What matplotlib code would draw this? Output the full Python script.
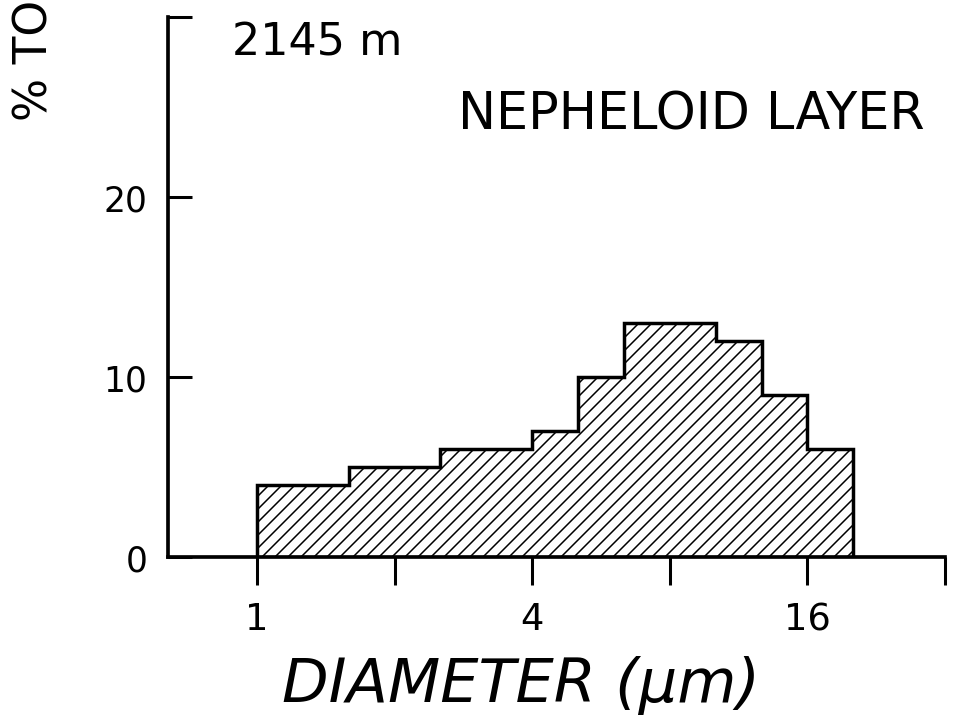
import numpy as np
import matplotlib
matplotlib.use("Agg")
from matplotlib import pyplot as plt

# bin edges (1/3 phi steps, um) and percent of total in each bin
edges = [1.0, 1.26, 1.59, 2.0, 2.52, 3.17, 4.0, 5.04, 6.35, 8.0, 10.08, 12.7, 16.0, 20.16]
percent = [4, 4, 5, 5, 6, 6, 7, 10, 13, 13, 12, 9, 6]

xticks = [1, 2, 4, 8, 16, 32]
xticklabels = ["1", "", "4", "", "16", ""]
yticks = [0, 10, 20, 30]
yticklabels = ["0", "10", "20", ""]

DPI = 78
plt.rcParams['font.family'] = ['DejaVu Sans']
plt.rcParams['hatch.linewidth'] = 1.4

fig = plt.figure(figsize=(967 / DPI, 719 / DPI), dpi=DPI)
ax = fig.add_axes([168 / 967, 1 - 558 / 719, 777 / 967, 540 / 719])

ax.stairs(percent, edges, fill=True, facecolor='white', edgecolor='black',
          hatch='//', linewidth=3.2)

ax.set_xscale('log', base=2)
ax.set_xlim(0.639, 32)
ax.set_ylim(0, 30)

for s in ['top', 'right']:
    ax.spines[s].set_visible(False)
for s in ['left', 'bottom']:
    ax.spines[s].set_linewidth(3.4)

ax.set_xticks(xticks)
ax.set_xticklabels(xticklabels)
ax.xaxis.set_minor_locator(matplotlib.ticker.NullLocator())
ax.set_yticks(yticks)
ax.set_yticklabels(yticklabels)

ax.tick_params(axis='x', direction='out', length=26, width=2.8, pad=14, labelsize=34)
ax.tick_params(axis='y', direction='in', length=22, width=2.8, pad=19, labelsize=32)

fig.text(232 / 967, 1 - 55 / 719, "2145 m", fontsize=41, va='baseline', ha='left')
fig.text(691 / 967, 1 - 130 / 719, "NEPHELOID LAYER", fontsize=47, va='baseline', ha='center')
fig.text(521 / 967, 1 - 702 / 719, "DIAMETER (\u03bcm)", fontsize=56, style='italic',
         va='baseline', ha='center')
fig.text(35 / 967, 1.0, "% TO", fontsize=42, rotation=90, va='top', ha='center')

fig.savefig("out.png", dpi=DPI)
